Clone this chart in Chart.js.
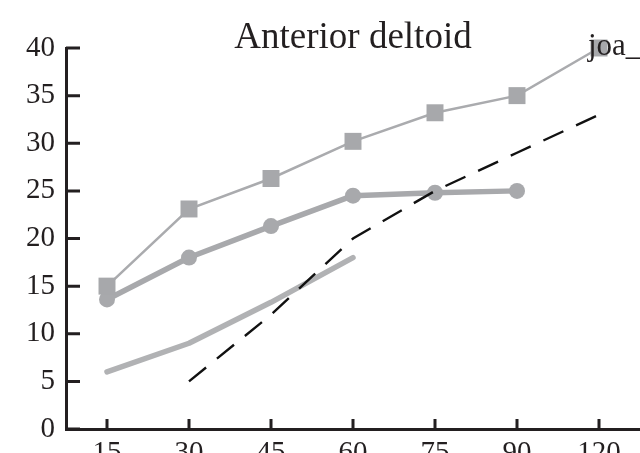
<!DOCTYPE html>
<html>
<head>
<meta charset="utf-8">
<script src="https://cdn.jsdelivr.net/npm/chart.js@4/dist/chart.umd.min.js"></script>
<style>
  html, body { margin: 0; padding: 0; background: #fff; }
  canvas { display: block; }
</style>
</head>
<body>
<canvas id="chart" width="640" height="453"></canvas>
<script>
// sampling times (categories on the x axis)
var times = ['15', '30', '45', '60', '75', '90', '120'];
var yTicks = [0, 5, 10, 15, 20, 25, 30, 35, 40];

// series values, null where a series has no point
var squareSeries = [15, 23.1, 26.3, 30.2, 33.2, 35, 40];
var circleSeries = [13.6, 18, 21.3, 24.5, 24.8, 25, null];
var plainSeries = [6, 9, 13.3, 18, null, null, null];
var dashedSeries = [null, 5, 12, 20, 25, 29, 33];

var titleText = 'Anterior deltoid';
var cornerText = 'joa_';

var ink = '#231f20';
var serif = "'Liberation Serif', 'Times New Roman', serif";

// inner tick marks, title and the corner tag
var decorations = {
    id: 'decorations',
    afterDraw: function(chart) {
        var ctx = chart.ctx;
        var x = chart.scales.x;
        var y = chart.scales.y;
        var area = chart.chartArea;
        ctx.save();
        ctx.strokeStyle = ink;
        ctx.lineWidth = 3;
        ctx.beginPath();
        for (var i = 0; i < times.length; i++) {
            var px = x.getPixelForTick(i);
            ctx.moveTo(px, area.bottom);
            ctx.lineTo(px, area.bottom - 10);
        }
        yTicks.forEach(function(v) {
            var py = y.getPixelForValue(v);
            ctx.moveTo(area.left, py);
            ctx.lineTo(area.left + 14, py);
        });
        ctx.stroke();

        ctx.fillStyle = ink;
        ctx.textBaseline = 'alphabetic';
        ctx.textAlign = 'center';
        ctx.font = '37px ' + serif;
        ctx.fillText(titleText, (area.left + area.right) / 2, 48);
        ctx.textAlign = 'left';
        ctx.font = '31px ' + serif;
        ctx.fillText(cornerText, 588, 55);
        ctx.restore();
    }
};

new Chart(document.getElementById('chart').getContext('2d'), {
    type: 'line',
    data: {
        labels: times,
        datasets: [
            {
                data: squareSeries,
                borderColor: '#aaabae',
                backgroundColor: '#a7a8ab',
                borderWidth: 2.5,
                pointStyle: 'rect',
                pointRadius: 12,
                pointBorderWidth: 0,
                clip: false
            },
            {
                data: dashedSeries,
                borderColor: '#111111',
                borderWidth: 2.4,
                borderDash: [22, 14],
                pointRadius: 0,
                clip: false
            },
            {
                data: circleSeries,
                borderColor: '#a8a9ac',
                backgroundColor: '#a8a9ac',
                borderWidth: 5.5,
                borderCapStyle: 'round',
                borderJoinStyle: 'round',
                pointRadius: 8,
                pointBorderWidth: 0,
                clip: false
            },
            {
                data: plainSeries,
                borderColor: '#b1b2b4',
                borderWidth: 5.5,
                borderCapStyle: 'round',
                borderJoinStyle: 'round',
                pointRadius: 0,
                clip: false
            }
        ]
    },
    options: {
        responsive: false,
        animation: false,
        layout: {
            autoPadding: false,
            padding: { top: 48, right: 0, left: 0, bottom: 0 }
        },
        plugins: {
            legend: { display: false },
            tooltip: { enabled: false },
            title: { display: false }
        },
        scales: {
            x: {
                type: 'category',
                offset: true,
                grid: { display: false, drawTicks: false },
                border: { display: true, color: ink, width: 3 },
                ticks: {
                    color: ink,
                    padding: 7,
                    font: { family: serif, size: 29 }
                },
                afterFit: function(scale) {
                    scale.height = 24;
                    scale.paddingLeft = 0;
                    scale.paddingRight = 0;
                }
            },
            y: {
                min: 0,
                max: 40,
                grid: { display: false, drawTicks: false },
                border: { display: true, color: ink, width: 3 },
                ticks: {
                    stepSize: 5,
                    color: ink,
                    padding: 11,
                    font: { family: serif, size: 29 }
                },
                afterFit: function(scale) {
                    scale.width = 66;
                    scale.paddingTop = 0;
                    scale.paddingBottom = 0;
                }
            }
        }
    },
    plugins: [decorations]
});
</script>
</body>
</html>
